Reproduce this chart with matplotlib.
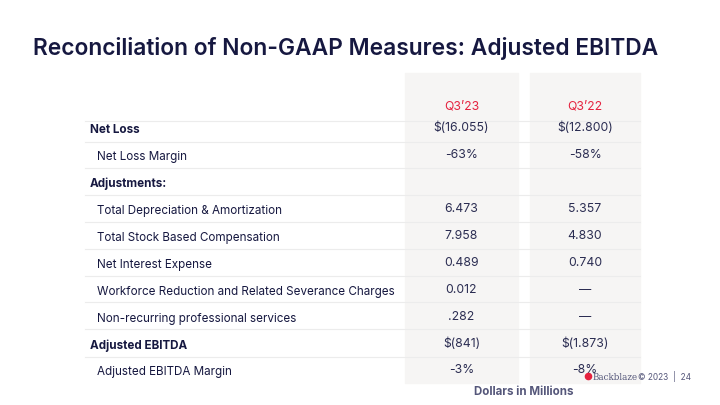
import matplotlib.pyplot as plt
from matplotlib.patches import Rectangle

# table data
periods = ["Q3\u201923", "Q3\u201922"]
row_labels = ["Net Loss", "Net Loss Margin", "Adjustments:",
              "Total Depreciation & Amortization", "Total Stock Based Compensation",
              "Net Interest Expense", "Workforce Reduction and Related Severance Charges",
              "Non-recurring professional services", "Adjusted EBITDA",
              "Adjusted EBITDA Margin"]
row_bold = [True, False, True, False, False, False, False, False, True, False]
q3_23 = ["$(16.055)", "-63%", "", "6.473", "7.958", "0.489", "0.012", ".282", "$(841)", "-3%"]
q3_22 = ["$(12.800)", "-58%", "", "5.357", "4.830", "0.740", "\u2014", "\u2014", "$(1.873)", "-8%"]

navy = "#161840"
txt = "#2b2d52"
red = "#e5223f"
W, H = 720, 405

plt.rcParams['font.family'] = ['Inter', 'DejaVu Sans']
fig = plt.figure(figsize=(7.2, 4.05), dpi=100)
ax = fig.add_axes([0, 0, 1, 1])
ax.set_xlim(0, W)
ax.set_ylim(H, 0)
ax.axis("off")

ax.text(33, 49, "Reconciliation of Non-GAAP Measures: Adjusted EBITDA",
        fontsize=16.4, fontweight="semibold", color=navy, va="center", ha="left")

# column backgrounds
col_x = [(405, 518), (530, 640)]
for x0, x1 in col_x:
    ax.add_patch(Rectangle((x0, 73), x1 - x0, 310, color="#f6f5f4", zorder=0))

row_y = [130, 157, 184, 211, 238, 265, 292, 319, 346, 372]
line_y = [121, 142, 168, 195, 222, 249, 276, 302, 329, 357]
for ly in line_y:
    ax.plot([85, 640], [ly, ly], color="#ececec", lw=0.8, zorder=1)

for (x0, x1), p in zip(col_x, periods):
    ax.text((x0 + x1) / 2, 106, p, color=red, fontsize=8.8, ha="center", va="center")

for y, lab, b, v1, v2 in zip(row_y, row_labels, row_bold, q3_23, q3_22):
    ax.text(90 if b else 97, y, lab, fontsize=8.4, color=navy,
            fontweight="bold" if b else "normal", ha="left", va="center")
    ax.text(sum(col_x[0]) / 2, y - 2, v1, fontsize=8.8, color=txt, ha="center", va="center")
    ax.text(sum(col_x[1]) / 2, y - 2, v2, fontsize=8.8, color=txt, ha="center", va="center")

ax.text(524, 392, "Dollars in Millions", fontsize=8.3, fontweight="bold",
        color="#55577a", ha="center", va="center")

# footer
ax.scatter([588], [376], s=20, color=red, zorder=3)
ax.text(593, 377, "Backblaze", fontsize=6.3, family="DejaVu Serif", color="#55577a",
        ha="left", va="center", zorder=3)
ax.text(638, 377, "\u00a9 2023  |  24", fontsize=6, color="#55577a", ha="left", va="center")

fig.savefig("out.png", dpi=100)
